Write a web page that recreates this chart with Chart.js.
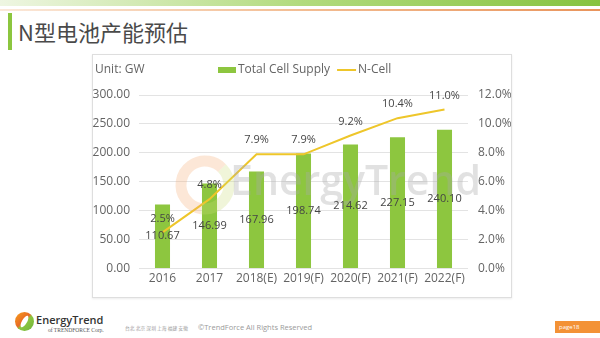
<!DOCTYPE html>
<html lang="zh">
<head>
<meta charset="UTF-8">
<title>N型电池产能预估</title>
<script src="https://cdn.jsdelivr.net/npm/chart.js"></script>
<style>
  body { margin: 0; width: 600px; height: 338px; background: #fff; position: relative; overflow: hidden; font-family: 'Open Sans', sans-serif; }
  .topband { position: absolute; left: 0; top: 0; width: 600px; height: 6px; background: linear-gradient(to right, #eef6e2, #b2db7e 50%, #86c340); }
  .topline { position: absolute; left: 0; top: 9px; width: 600px; height: 2px; background: linear-gradient(to right, #fbe8d9, #f3bd93 50%, #e9945c); }
  .titlebar { position: absolute; left: 8px; top: 13px; width: 4px; height: 37px; background: #8cc63f; }
  h1 { position: absolute; left: 18px; top: 16px; margin: 0; font: 400 22px 'Noto Sans CJK SC', sans-serif; color: #4a4a4a; line-height: 30px; }
  .chart-box { position: absolute; left: 92px; top: 54px; width: 418px; height: 242px; border: 1px solid #dedede; box-shadow: 0 1px 2px rgba(0,0,0,0.08); }
  canvas { display: block; }
  .logo { position: absolute; left: 15px; top: 312px; width: 19px; height: 19px; border-radius: 50%; background: linear-gradient(135deg, #f7a11c, #e86a25 45%, #8cc63f 55%, #6fb23a); }
  .logo::after { content: ''; position: absolute; left: 7px; top: 3px; width: 5px; height: 13px; background: #fff; border-radius: 50%; transform: rotate(30deg); }
  .brand { position: absolute; left: 36px; top: 312px; font: 600 11px 'Open Sans', sans-serif; color: #333; }
  .corp { position: absolute; left: 48px; top: 327px; font: 5.5px 'Liberation Serif', serif; color: #555; }
  .cities { position: absolute; left: 125px; top: 324px; font: 4.8px 'Noto Sans CJK SC', sans-serif; color: #9a9a9a; }
  .copy { position: absolute; left: 198px; top: 322px; font: 7.5px 'Open Sans', sans-serif; color: #9a9a9a; }
  .page { position: absolute; left: 555px; top: 321px; width: 45px; height: 12px; background: #f39236; color: #fff; font: 6px 'Open Sans', sans-serif; line-height: 12px; padding-left: 4px; box-sizing: border-box; }
</style>
</head>
<body>
  <div class="topband"></div>
  <div class="topline"></div>
  <div class="titlebar"></div>
  <h1>N型电池产能预估</h1>

  <div class="chart-box">
    <canvas id="capacityChart" width="418" height="242"></canvas>
  </div>

  <div class="logo"></div>
  <div class="brand">EnergyTrend</div>
  <div class="corp">of TRENDFORCE Corp.</div>
  <div class="cities">台北 北京 深圳 上海 福建 安徽</div>
  <div class="copy">©TrendForce All Rights Reserved</div>
  <div class="page">page18</div>

<script>
  const categories = ['2016', '2017', '2018(E)', '2019(F)', '2020(F)', '2021(F)', '2022(F)'];
  const cellSupply = [110.67, 146.99, 167.96, 198.74, 214.62, 227.15, 240.10];
  const nCellShare = [2.5, 4.8, 7.9, 7.9, 9.2, 10.4, 11.0];
  const supplyTicks = [0, 50, 100, 150, 200, 250, 300];
  const shareTicks = [0, 2, 4, 6, 8, 10, 12];

  const textColor = '#646464';
  const labelColor = '#454545';

  // watermark, value labels and the legend drawn on the canvas
  const decorations = {
    id: 'decorations',
    afterDatasetsDraw(chart) {
      const ctx = chart.ctx;
      ctx.save();

      // faint EnergyTrend watermark
      ctx.lineWidth = 11;
      ctx.strokeStyle = 'rgba(244, 170, 110, 0.28)';
      ctx.beginPath();
      ctx.arc(112, 130, 24, Math.PI * 0.55, Math.PI * 1.75);
      ctx.stroke();
      ctx.strokeStyle = 'rgba(200, 220, 120, 0.28)';
      ctx.beginPath();
      ctx.arc(112, 130, 24, Math.PI * 1.75, Math.PI * 2.55);
      ctx.stroke();
      ctx.font = '600 41px "Open Sans"';
      ctx.fillStyle = 'rgba(170, 170, 170, 0.35)';
      ctx.textAlign = 'left';
      ctx.textBaseline = 'middle';
      ctx.fillText('EnergyTrend', 137, 128);

      ctx.font = '11px "Open Sans"';
      ctx.fillStyle = labelColor;
      ctx.textAlign = 'center';
      chart.getDatasetMeta(0).data.forEach((bar, i) => {
        ctx.fillText(cellSupply[i].toFixed(2), bar.x, (bar.y + bar.base) / 2);
      });
      chart.getDatasetMeta(1).data.forEach((pt, i) => {
        ctx.fillText(nCellShare[i].toFixed(1) + '%', pt.x, pt.y - 14);
      });
      ctx.restore();
    },
    afterDraw(chart) {
      const ctx = chart.ctx;
      const ds = chart.data.datasets;
      ctx.save();
      ctx.font = '12px "Open Sans"';
      ctx.fillStyle = textColor;
      ctx.textBaseline = 'middle';
      ctx.fillText('Unit: GW', 2, 15);

      let x = 125;
      ctx.fillStyle = ds[0].backgroundColor;
      ctx.fillRect(x, 12, 18, 6);
      x += 20;
      ctx.fillStyle = textColor;
      ctx.fillText(ds[0].label, x, 15);
      x += ctx.measureText(ds[0].label).width + 7;
      ctx.strokeStyle = ds[1].borderColor;
      ctx.lineWidth = 2;
      ctx.beginPath();
      ctx.moveTo(x, 15);
      ctx.lineTo(x + 19, 15);
      ctx.stroke();
      x += 21;
      ctx.fillText(ds[1].label, x, 15);
      ctx.restore();
    }
  };

  const ctx = document.getElementById('capacityChart').getContext('2d');

  new Chart(ctx, {
    type: 'bar',
    data: {
      labels: categories,
      datasets: [{
        type: 'bar',
        label: 'Total Cell Supply',
        data: cellSupply,
        backgroundColor: '#8dc63f',
        barPercentage: 0.64,
        categoryPercentage: 0.5,
        yAxisID: 'y',
        order: 1
      }, {
        type: 'line',
        label: 'N-Cell',
        data: nCellShare,
        borderColor: '#eec62a',
        borderWidth: 2,
        pointRadius: 0,
        tension: 0,
        yAxisID: 'y1',
        order: 0
      }]
    },
    options: {
      responsive: false,
      animation: false,
      layout: { padding: { top: 40, left: 0, right: 0, bottom: 8 } },
      plugins: {
        legend: { display: false },
        tooltip: { enabled: false }
      },
      scales: {
        x: {
          grid: { display: false, drawTicks: false },
          border: { display: false },
          ticks: { color: textColor, font: { family: 'Open Sans', size: 12 }, padding: 3, maxRotation: 0, autoSkip: false }
        },
        y: {
          position: 'left',
          min: supplyTicks[0],
          max: supplyTicks[supplyTicks.length - 1],
          afterFit: scale => { scale.width = 46; },
          ticks: {
            stepSize: supplyTicks[1] - supplyTicks[0],
            color: textColor,
            font: { family: 'Open Sans', size: 12 },
            padding: 9,
            callback: v => v.toFixed(2)
          },
          grid: { color: '#e3e3e3', drawTicks: false },
          border: { display: false }
        },
        y1: {
          position: 'right',
          min: shareTicks[0],
          max: shareTicks[shareTicks.length - 1],
          afterFit: scale => { scale.width = 43; },
          ticks: {
            stepSize: shareTicks[1] - shareTicks[0],
            color: textColor,
            font: { family: 'Open Sans', size: 12 },
            padding: 10,
            callback: v => v.toFixed(1) + '%'
          },
          grid: { display: false, drawTicks: false },
          border: { display: false }
        }
      }
    },
    plugins: [decorations]
  });
</script>
</body>
</html>
